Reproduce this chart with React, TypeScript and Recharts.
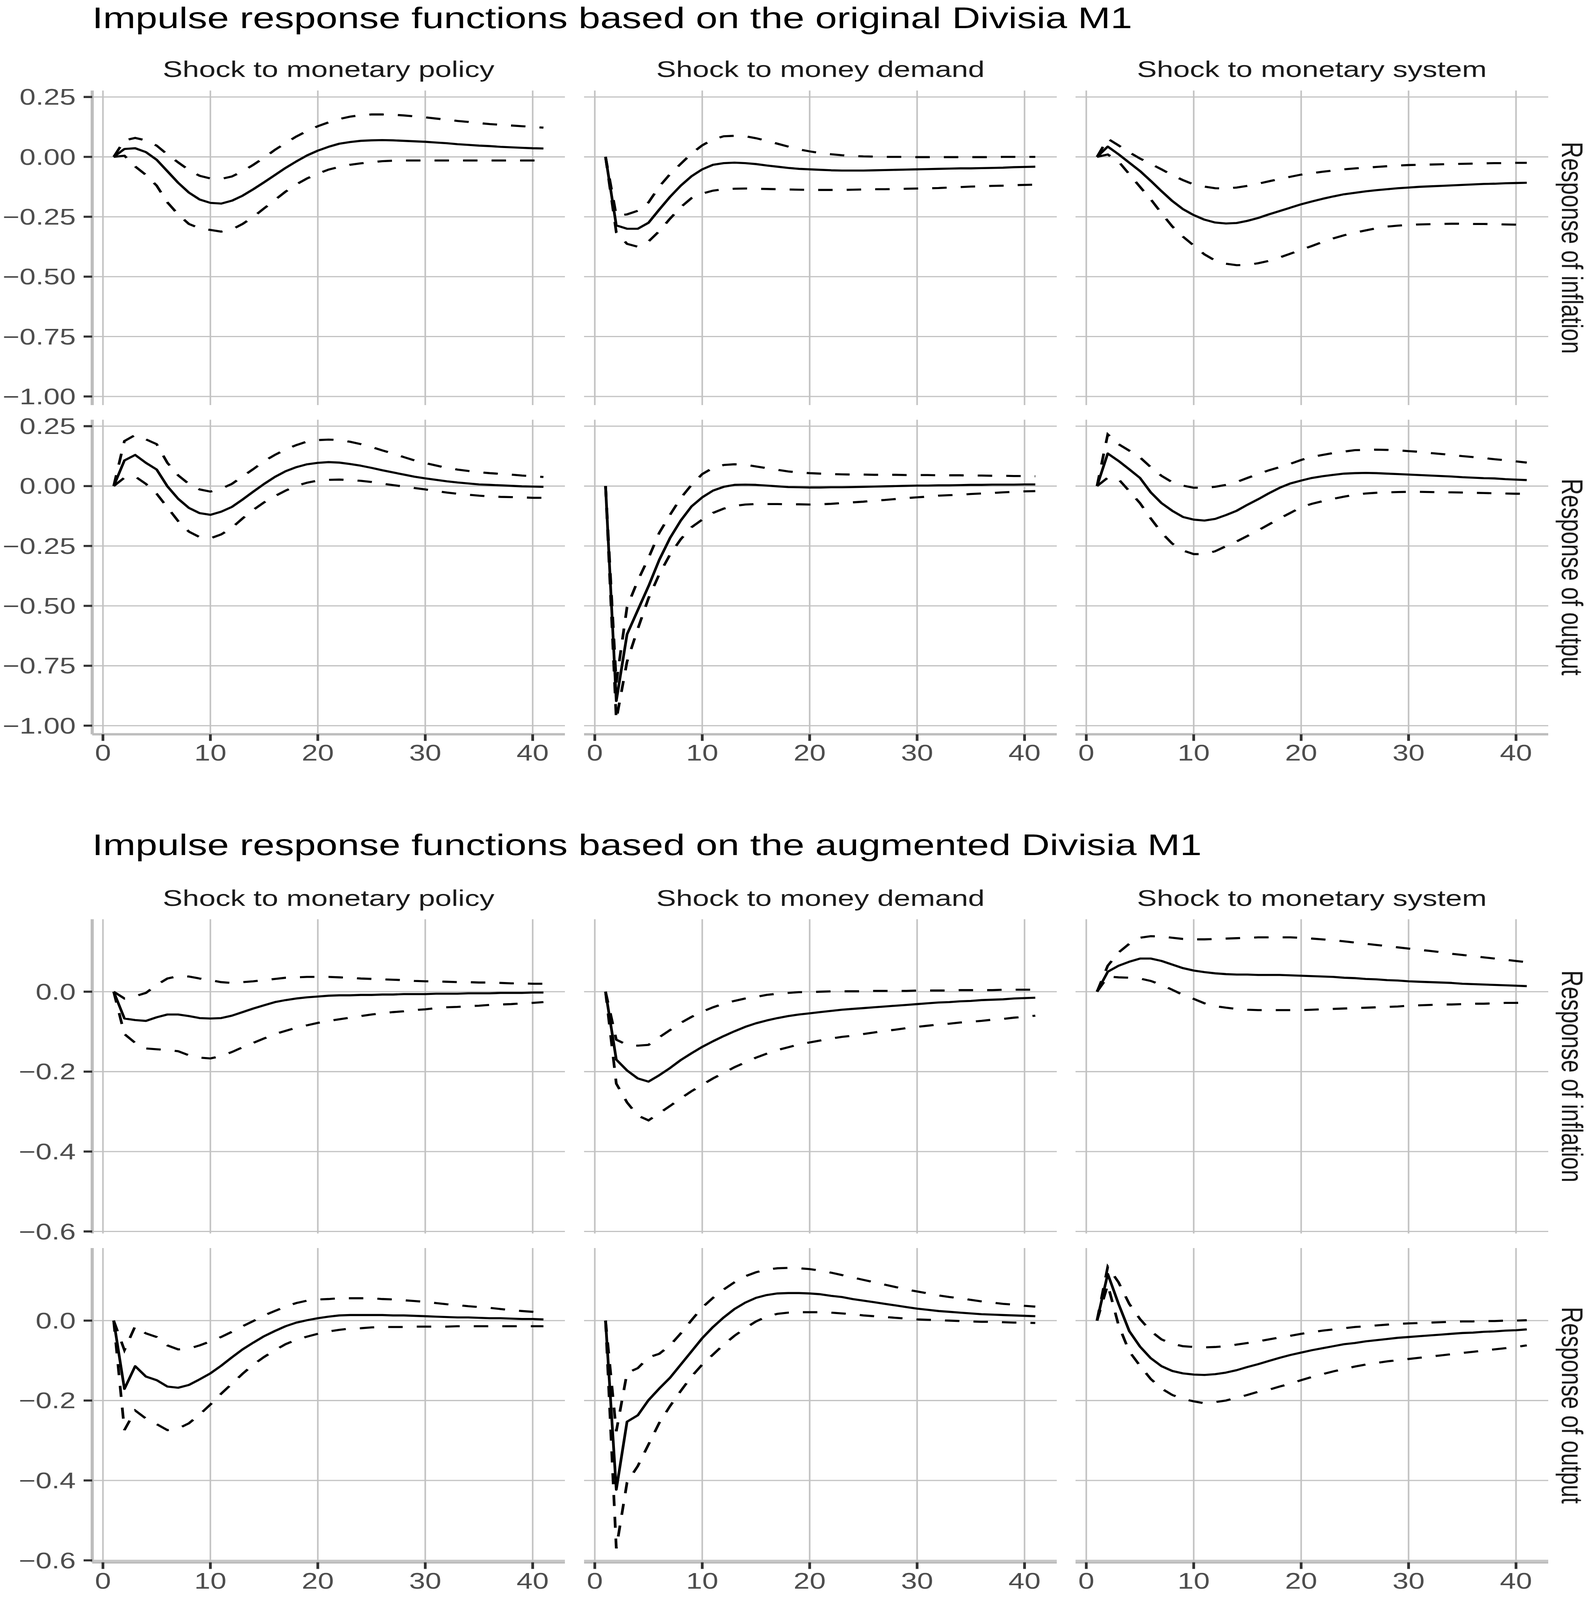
import { CartesianGrid, Line, LineChart, XAxis, YAxis } from "recharts";

// impulse horizon (quarters)
const horizon = [
  1, 2, 3, 4, 5, 6, 7, 8, 9, 10, 11, 12, 13, 14, 15, 16, 17, 18, 19, 20, 21,
  22, 23, 24, 25, 26, 27, 28, 29, 30, 31, 32, 33, 34, 35, 36, 37, 38, 39, 40, 41,
];

const shocks = ["Shock to monetary policy", "Shock to money demand", "Shock to monetary system"];
const responses = ["Response of inflation", "Response of output"];
const xTicks = [0, 10, 20, 30, 40];
const origTicks = [-1, -0.75, -0.5, -0.25, 0, 0.25];
const augTicks = [-0.6, -0.4, -0.2, 0];

// ---- original Divisia M1 ----
const origInflPolicyMid = [0, 0.033, 0.036, 0.02, -0.012, -0.06, -0.108, -0.149, -0.178, -0.192,
  -0.195, -0.183, -0.162, -0.135, -0.106, -0.076, -0.046, -0.019, 0.006, 0.026,
  0.042, 0.055, 0.062, 0.067, 0.069, 0.07, 0.069, 0.067, 0.065, 0.063,
  0.06, 0.057, 0.053, 0.05, 0.047, 0.045, 0.042, 0.04, 0.038, 0.036, 0.035];
const origInflPolicyUp = [0, 0.069, 0.079, 0.069, 0.047, 0.01, -0.023, -0.055, -0.079, -0.09,
  -0.092, -0.082, -0.06, -0.033, -0.003, 0.029, 0.058, 0.085, 0.108, 0.128,
  0.144, 0.158, 0.168, 0.174, 0.177, 0.177, 0.176, 0.173, 0.169, 0.165,
  0.16, 0.155, 0.15, 0.146, 0.141, 0.137, 0.134, 0.131, 0.128, 0.125, 0.122];
const origInflPolicyLo = [0, 0.005, -0.04, -0.075, -0.12, -0.19, -0.24, -0.28, -0.298, -0.305,
  -0.312, -0.303, -0.28, -0.25, -0.215, -0.18, -0.145, -0.115, -0.09, -0.07,
  -0.053, -0.042, -0.033, -0.027, -0.022, -0.018, -0.016, -0.015, -0.015, -0.015,
  -0.015, -0.015, -0.015, -0.015, -0.015, -0.015, -0.015, -0.015, -0.015, -0.015, -0.015];

const origInflDemandMid = [0, -0.286, -0.3, -0.3, -0.275, -0.22, -0.167, -0.12, -0.081, -0.052,
  -0.033, -0.026, -0.024, -0.026, -0.03, -0.036, -0.041, -0.046, -0.05, -0.052,
  -0.054, -0.056, -0.057, -0.057, -0.057, -0.056, -0.055, -0.054, -0.053, -0.052,
  -0.051, -0.05, -0.049, -0.048, -0.048, -0.047, -0.046, -0.045, -0.043, -0.042, -0.041];
const origInflDemandUp = [0, -0.245, -0.24, -0.225, -0.19, -0.124, -0.072, -0.029, 0.014, 0.048,
  0.073, 0.086, 0.088, 0.086, 0.078, 0.067, 0.055, 0.043, 0.031, 0.023,
  0.016, 0.011, 0.007, 0.004, 0.002, 0.001, 0, 0, 0, -0.001,
  -0.001, -0.001, -0.001, -0.001, -0.001, -0.001, -0.001, 0, 0, 0, 0];
const origInflDemandLo = [0, -0.315, -0.363, -0.375, -0.353, -0.31, -0.258, -0.21, -0.172, -0.153,
  -0.141, -0.135, -0.133, -0.132, -0.133, -0.134, -0.135, -0.136, -0.137, -0.138,
  -0.138, -0.138, -0.138, -0.137, -0.136, -0.135, -0.135, -0.134, -0.133, -0.132,
  -0.131, -0.13, -0.128, -0.126, -0.124, -0.123, -0.121, -0.12, -0.118, -0.117, -0.116];

const origInflSystemMid = [0, 0.043, 0.011, -0.024, -0.059, -0.1, -0.143, -0.184, -0.218, -0.243,
  -0.262, -0.274, -0.278, -0.276, -0.267, -0.255, -0.24, -0.226, -0.212, -0.198,
  -0.186, -0.175, -0.165, -0.156, -0.15, -0.144, -0.139, -0.135, -0.131, -0.128,
  -0.125, -0.123, -0.121, -0.119, -0.117, -0.115, -0.113, -0.112, -0.11, -0.109, -0.108];
const origInflSystemUp = [0, 0.076, 0.048, 0.019, -0.007, -0.029, -0.052, -0.076, -0.097, -0.115,
  -0.124, -0.131, -0.132, -0.128, -0.121, -0.112, -0.102, -0.092, -0.083, -0.074,
  -0.068, -0.062, -0.057, -0.052, -0.048, -0.045, -0.042, -0.039, -0.036, -0.034,
  -0.033, -0.032, -0.031, -0.03, -0.029, -0.028, -0.027, -0.026, -0.026, -0.025, -0.025];
const origInflSystemLo = [0, 0.01, -0.019, -0.072, -0.125, -0.177, -0.235, -0.29, -0.333, -0.37,
  -0.407, -0.433, -0.446, -0.452, -0.451, -0.444, -0.434, -0.42, -0.404, -0.388,
  -0.372, -0.355, -0.34, -0.327, -0.316, -0.307, -0.298, -0.291, -0.287, -0.284,
  -0.282, -0.281, -0.28, -0.279, -0.279, -0.28, -0.28, -0.281, -0.282, -0.283, -0.283];

const origOutPolicyMid = [0, 0.107, 0.13, 0.097, 0.069, -0.001, -0.053, -0.091, -0.113, -0.12,
  -0.107, -0.087, -0.056, -0.023, 0.009, 0.038, 0.062, 0.079, 0.091, 0.097,
  0.1, 0.098, 0.092, 0.085, 0.076, 0.066, 0.057, 0.048, 0.039, 0.032,
  0.026, 0.02, 0.015, 0.011, 0.007, 0.005, 0.003, 0.001, -0.001, -0.002, -0.003];
const origOutPolicyUp = [0, 0.188, 0.213, 0.195, 0.175, 0.097, 0.045, 0.009, -0.014, -0.023,
  -0.011, 0.009, 0.04, 0.071, 0.104, 0.13, 0.153, 0.171, 0.186, 0.192,
  0.194, 0.192, 0.185, 0.175, 0.163, 0.149, 0.136, 0.121, 0.107, 0.096,
  0.086, 0.076, 0.069, 0.063, 0.058, 0.054, 0.051, 0.048, 0.044, 0.041, 0.038];
const origOutPolicyLo = [0, 0.035, 0.04, 0.009, -0.032, -0.089, -0.146, -0.19, -0.213, -0.218,
  -0.202, -0.174, -0.135, -0.099, -0.068, -0.042, -0.019, 0.001, 0.014, 0.023,
  0.026, 0.027, 0.025, 0.022, 0.017, 0.01, 0.004, -0.002, -0.008, -0.014,
  -0.021, -0.027, -0.032, -0.036, -0.04, -0.043, -0.045, -0.046, -0.047, -0.049, -0.049];

const origOutDemandMid = [0, -0.897, -0.619, -0.518, -0.418, -0.308, -0.217, -0.144, -0.085, -0.047,
  -0.019, -0.003, 0.005, 0.006, 0.005, 0.002, -0.001, -0.004, -0.005, -0.006,
  -0.006, -0.005, -0.005, -0.004, -0.003, -0.002, -0.001, 0, 0.001, 0.002,
  0.002, 0.003, 0.003, 0.004, 0.005, 0.005, 0.006, 0.006, 0.006, 0.007, 0.007];
const origOutDemandUp = [0, -0.82, -0.505, -0.395, -0.3, -0.195, -0.12, -0.05, 0.005, 0.05,
  0.076, 0.088, 0.091, 0.089, 0.082, 0.075, 0.068, 0.061, 0.057, 0.054,
  0.052, 0.05, 0.049, 0.048, 0.048, 0.047, 0.047, 0.047, 0.046, 0.046,
  0.046, 0.045, 0.045, 0.045, 0.044, 0.044, 0.043, 0.043, 0.042, 0.042, 0.041];
const origOutDemandLo = [0, -0.975, -0.733, -0.596, -0.468, -0.368, -0.286, -0.222, -0.172, -0.14,
  -0.112, -0.094, -0.083, -0.077, -0.075, -0.075, -0.075, -0.076, -0.076, -0.077,
  -0.076, -0.074, -0.071, -0.068, -0.065, -0.061, -0.058, -0.054, -0.05, -0.047,
  -0.044, -0.04, -0.038, -0.036, -0.033, -0.031, -0.029, -0.026, -0.024, -0.022, -0.021];

const origOutSystemMid = [0, 0.136, 0.105, 0.07, 0.034, -0.026, -0.071, -0.103, -0.129, -0.14,
  -0.144, -0.137, -0.121, -0.103, -0.078, -0.055, -0.03, -0.007, 0.011, 0.023,
  0.034, 0.041, 0.047, 0.052, 0.054, 0.055, 0.054, 0.052, 0.05, 0.048,
  0.046, 0.044, 0.042, 0.04, 0.037, 0.035, 0.033, 0.032, 0.029, 0.027, 0.025];
const origOutSystemUp = [0, 0.216, 0.175, 0.148, 0.12, 0.079, 0.043, 0.016, 0.002, -0.007,
  -0.007, -0.003, 0.005, 0.017, 0.034, 0.05, 0.066, 0.079, 0.093, 0.109,
  0.122, 0.13, 0.138, 0.144, 0.15, 0.151, 0.152, 0.151, 0.149, 0.146,
  0.143, 0.138, 0.134, 0.13, 0.125, 0.121, 0.117, 0.112, 0.108, 0.103, 0.098];
const origOutSystemLo = [0, 0.035, 0.029, -0.021, -0.071, -0.135, -0.194, -0.24, -0.269, -0.284,
  -0.284, -0.272, -0.251, -0.231, -0.208, -0.185, -0.16, -0.135, -0.112, -0.088,
  -0.074, -0.063, -0.053, -0.044, -0.036, -0.031, -0.028, -0.026, -0.025, -0.024,
  -0.024, -0.025, -0.026, -0.026, -0.027, -0.028, -0.029, -0.03, -0.031, -0.032, -0.032];

// ---- augmented Divisia M1 ----
const augInflPolicyMid = [0, -0.067, -0.071, -0.073, -0.064, -0.057, -0.057, -0.061, -0.066, -0.067,
  -0.066, -0.06, -0.051, -0.042, -0.034, -0.026, -0.021, -0.017, -0.014, -0.012,
  -0.01, -0.009, -0.009, -0.008, -0.008, -0.007, -0.007, -0.006, -0.006, -0.006,
  -0.005, -0.005, -0.005, -0.004, -0.004, -0.004, -0.003, -0.003, -0.003, -0.002, -0.002];
const augInflPolicyUp = [0, -0.017, -0.011, -0.003, 0.017, 0.033, 0.039, 0.038, 0.033, 0.029,
  0.024, 0.022, 0.024, 0.026, 0.029, 0.032, 0.035, 0.036, 0.037, 0.037,
  0.037, 0.036, 0.035, 0.033, 0.032, 0.031, 0.03, 0.029, 0.027, 0.026,
  0.026, 0.025, 0.024, 0.024, 0.023, 0.023, 0.022, 0.021, 0.021, 0.02, 0.02];
const augInflPolicyLo = [0, -0.106, -0.128, -0.142, -0.144, -0.146, -0.149, -0.159, -0.165, -0.167,
  -0.161, -0.151, -0.139, -0.128, -0.117, -0.106, -0.098, -0.09, -0.084, -0.078,
  -0.073, -0.069, -0.065, -0.061, -0.057, -0.054, -0.051, -0.049, -0.046, -0.044,
  -0.041, -0.039, -0.038, -0.036, -0.035, -0.033, -0.032, -0.031, -0.029, -0.028, -0.026];

const augInflDemandMid = [0, -0.17, -0.197, -0.217, -0.225, -0.209, -0.191, -0.171, -0.154, -0.138,
  -0.124, -0.111, -0.099, -0.088, -0.079, -0.072, -0.066, -0.061, -0.057, -0.054,
  -0.051, -0.048, -0.045, -0.043, -0.041, -0.039, -0.037, -0.035, -0.033, -0.031,
  -0.029, -0.027, -0.026, -0.024, -0.023, -0.021, -0.02, -0.019, -0.017, -0.016, -0.015];
const augInflDemandUp = [0, -0.12, -0.133, -0.135, -0.133, -0.114, -0.096, -0.078, -0.063, -0.05,
  -0.039, -0.03, -0.023, -0.017, -0.013, -0.008, -0.005, -0.003, -0.001, -0.001,
  0, 0.001, 0.001, 0.001, 0.001, 0.002, 0.002, 0.002, 0.002, 0.003,
  0.003, 0.003, 0.003, 0.004, 0.004, 0.004, 0.004, 0.005, 0.005, 0.005, 0.005];
const augInflDemandLo = [0, -0.23, -0.277, -0.31, -0.322, -0.304, -0.286, -0.267, -0.249, -0.233,
  -0.217, -0.203, -0.189, -0.177, -0.165, -0.155, -0.146, -0.139, -0.132, -0.127,
  -0.122, -0.117, -0.113, -0.11, -0.106, -0.102, -0.098, -0.095, -0.091, -0.088,
  -0.085, -0.082, -0.08, -0.077, -0.075, -0.073, -0.07, -0.068, -0.065, -0.063, -0.06];

const augInflSystemMid = [0, 0.05, 0.065, 0.075, 0.083, 0.083, 0.077, 0.068, 0.059, 0.053,
  0.049, 0.046, 0.044, 0.043, 0.043, 0.042, 0.042, 0.042, 0.041, 0.04,
  0.039, 0.038, 0.037, 0.035, 0.034, 0.032, 0.031, 0.029, 0.028, 0.026,
  0.025, 0.024, 0.023, 0.022, 0.02, 0.019, 0.018, 0.017, 0.016, 0.015, 0.014];
const augInflSystemUp = [0, 0.065, 0.098, 0.12, 0.135, 0.139, 0.138, 0.135, 0.132, 0.131,
  0.131, 0.132, 0.133, 0.134, 0.135, 0.136, 0.136, 0.136, 0.136, 0.135,
  0.133, 0.131, 0.129, 0.126, 0.123, 0.12, 0.117, 0.114, 0.111, 0.108,
  0.105, 0.102, 0.099, 0.095, 0.092, 0.089, 0.086, 0.083, 0.08, 0.077, 0.074];
const augInflSystemLo = [0, 0.038, 0.036, 0.035, 0.033, 0.027, 0.017, 0.005, -0.008, -0.018,
  -0.029, -0.036, -0.04, -0.043, -0.045, -0.046, -0.046, -0.046, -0.046, -0.046,
  -0.045, -0.044, -0.043, -0.042, -0.041, -0.04, -0.039, -0.038, -0.037, -0.035,
  -0.034, -0.033, -0.032, -0.032, -0.031, -0.03, -0.03, -0.029, -0.028, -0.028, -0.027];

const augOutPolicyMid = [0, -0.171, -0.114, -0.14, -0.149, -0.165, -0.168, -0.161, -0.147, -0.132,
  -0.113, -0.092, -0.072, -0.055, -0.039, -0.026, -0.014, -0.005, 0.001, 0.006,
  0.01, 0.013, 0.014, 0.014, 0.014, 0.014, 0.013, 0.013, 0.012, 0.011,
  0.01, 0.009, 0.008, 0.008, 0.007, 0.006, 0.006, 0.005, 0.004, 0.004, 0.003];
const augOutPolicyUp = [0, -0.074, -0.014, -0.032, -0.041, -0.062, -0.072, -0.07, -0.062, -0.052,
  -0.041, -0.028, -0.014, -0.001, 0.013, 0.024, 0.035, 0.044, 0.05, 0.053,
  0.054, 0.056, 0.056, 0.056, 0.056, 0.054, 0.053, 0.051, 0.049, 0.047,
  0.044, 0.041, 0.039, 0.036, 0.034, 0.032, 0.029, 0.026, 0.024, 0.022, 0.02];
const augOutPolicyLo = [0, -0.274, -0.225, -0.245, -0.259, -0.274, -0.27, -0.257, -0.235, -0.21,
  -0.183, -0.158, -0.133, -0.11, -0.091, -0.074, -0.059, -0.048, -0.04, -0.033,
  -0.027, -0.023, -0.02, -0.019, -0.017, -0.016, -0.016, -0.016, -0.015, -0.015,
  -0.015, -0.015, -0.014, -0.014, -0.014, -0.014, -0.014, -0.014, -0.014, -0.014, -0.014];

const augOutDemandMid = [0, -0.423, -0.253, -0.237, -0.199, -0.17, -0.143, -0.11, -0.077, -0.044,
  -0.016, 0.008, 0.029, 0.045, 0.057, 0.064, 0.068, 0.069, 0.069, 0.068,
  0.066, 0.062, 0.059, 0.054, 0.05, 0.046, 0.042, 0.038, 0.034, 0.03,
  0.027, 0.024, 0.022, 0.02, 0.018, 0.016, 0.015, 0.014, 0.013, 0.012, 0.011];
const augOutDemandUp = [0, -0.277, -0.131, -0.119, -0.092, -0.083, -0.062, -0.032, 0.001, 0.033,
  0.057, 0.078, 0.096, 0.111, 0.121, 0.128, 0.131, 0.132, 0.131, 0.129,
  0.125, 0.12, 0.114, 0.108, 0.102, 0.096, 0.09, 0.084, 0.078, 0.073,
  0.068, 0.063, 0.059, 0.056, 0.052, 0.048, 0.045, 0.042, 0.04, 0.037, 0.035];
const augOutDemandLo = [0, -0.57, -0.405, -0.364, -0.31, -0.256, -0.214, -0.176, -0.14, -0.11,
  -0.085, -0.06, -0.038, -0.019, -0.002, 0.01, 0.017, 0.02, 0.021, 0.021,
  0.021, 0.02, 0.018, 0.016, 0.013, 0.011, 0.009, 0.007, 0.005, 0.003,
  0.002, 0.001, 0, -0.001, -0.002, -0.003, -0.003, -0.004, -0.005, -0.005, -0.006];

const augOutSystemMid = [0, 0.117, 0.042, -0.026, -0.065, -0.094, -0.114, -0.126, -0.132, -0.135,
  -0.136, -0.134, -0.13, -0.124, -0.116, -0.109, -0.101, -0.093, -0.086, -0.08,
  -0.074, -0.069, -0.064, -0.059, -0.056, -0.052, -0.049, -0.046, -0.043, -0.041,
  -0.039, -0.037, -0.035, -0.033, -0.031, -0.03, -0.028, -0.027, -0.025, -0.024, -0.022];
const augOutSystemUp = [0, 0.135, 0.096, 0.042, 0.004, -0.026, -0.047, -0.058, -0.064, -0.066,
  -0.067, -0.066, -0.064, -0.06, -0.056, -0.052, -0.047, -0.042, -0.038, -0.033,
  -0.029, -0.025, -0.022, -0.019, -0.016, -0.014, -0.012, -0.01, -0.008, -0.007,
  -0.006, -0.005, -0.004, -0.003, -0.002, -0.002, -0.001, -0.001, 0, 0, 0.001];
const augOutSystemLo = [0, 0.09, -0.011, -0.077, -0.113, -0.146, -0.17, -0.186, -0.196, -0.202,
  -0.207, -0.204, -0.2, -0.193, -0.186, -0.178, -0.173, -0.165, -0.158, -0.149,
  -0.141, -0.134, -0.127, -0.121, -0.115, -0.11, -0.106, -0.102, -0.099, -0.096,
  -0.093, -0.09, -0.087, -0.084, -0.081, -0.078, -0.075, -0.072, -0.069, -0.066, -0.062];

// layout (px, page coords of the full 4075 x 5356 figure)
const pageW = 4075;
const pageH = 5356;
const colLeft = [236, 1495, 2753];
const plotW = 1210;
const pad = 60;
const gridGrey = "#c2c2c2";
const axisGrey = "#bdbdbd";
const tickFont = { fill: "#4d4d4d", fontSize: 74 };

const toRows = (mid: number[], up: number[], lo: number[]) =>
  horizon.map((h, i) => ({ h, mid: mid[i], up: up[i], lo: lo[i] }));

const figures = [
  {
    title: "Impulse response functions based on the original Divisia M1",
    titleY: 94,
    stripY: 258,
    rowTop: [303, 1405],
    plotH: 1053,
    domain: [-1.036, 0.277],
    ticks: origTicks,
    digits: 2,
    panels: [
      [
        toRows(origInflPolicyMid, origInflPolicyUp, origInflPolicyLo),
        toRows(origInflDemandMid, origInflDemandUp, origInflDemandLo),
        toRows(origInflSystemMid, origInflSystemUp, origInflSystemLo),
      ],
      [
        toRows(origOutPolicyMid, origOutPolicyUp, origOutPolicyLo),
        toRows(origOutDemandMid, origOutDemandUp, origOutDemandLo),
        toRows(origOutSystemMid, origOutSystemUp, origOutSystemLo),
      ],
    ],
  },
  {
    title: "Impulse response functions based on the augmented Divisia M1",
    titleY: 2863,
    stripY: 3033,
    rowTop: [3077, 4178],
    plotH: 1052,
    domain: [-0.605, 0.1815],
    ticks: augTicks,
    digits: 1,
    panels: [
      [
        toRows(augInflPolicyMid, augInflPolicyUp, augInflPolicyLo),
        toRows(augInflDemandMid, augInflDemandUp, augInflDemandLo),
        toRows(augInflSystemMid, augInflSystemUp, augInflSystemLo),
      ],
      [
        toRows(augOutPolicyMid, augOutPolicyUp, augOutPolicyLo),
        toRows(augOutDemandMid, augOutDemandUp, augOutDemandLo),
        toRows(augOutSystemMid, augOutSystemUp, augOutSystemLo),
      ],
    ],
  },
];

const fmt = (digits: number) => (v: number) =>
  (v < 0 ? "\u2212" : "") + Math.abs(v).toFixed(digits);

function Panel({ data, left, top, plotH, first, bottom, domain, ticks, digits }: any) {
  const yW = first ? 236 : 0;
  const xH = bottom ? 110 : 0;
  return (
    <div style={{ position: "absolute", left: left - yW, top: top - pad }}>
      <LineChart
        width={yW + plotW}
        height={pad + plotH + (bottom ? xH : pad)}
        data={data}
        margin={{ top: pad, right: 0, bottom: bottom ? 0 : pad, left: 0 }}
      >
        <CartesianGrid
          stroke={gridGrey}
          strokeWidth={4}
          horizontalValues={ticks}
          verticalValues={xTicks}
        />
        <XAxis
          dataKey="h"
          type="number"
          domain={[-1, 43]}
          ticks={xTicks}
          interval={0}
          allowDataOverflow
          hide={!bottom}
          height={xH}
          tick={tickFont}
          tickSize={22}
          tickMargin={14}
          axisLine={{ stroke: axisGrey, strokeWidth: 8 }}
          tickLine={{ stroke: "#333333", strokeWidth: 7 }}
        />
        <YAxis
          type="number"
          domain={domain}
          ticks={ticks}
          interval={0}
          allowDataOverflow
          hide={!first}
          width={yW}
          tick={tickFont}
          tickSize={22}
          tickMargin={20}
          tickFormatter={fmt(digits)}
          axisLine={{ stroke: axisGrey, strokeWidth: 8 }}
          tickLine={{ stroke: "#333333", strokeWidth: 7 }}
        />
        <Line dataKey="up" type="linear" stroke="#000" strokeWidth={7} strokeDasharray="37 36"
          dot={false} activeDot={false} isAnimationActive={false} />
        <Line dataKey="lo" type="linear" stroke="#000" strokeWidth={7} strokeDasharray="37 36"
          dot={false} activeDot={false} isAnimationActive={false} />
        <Line dataKey="mid" type="linear" stroke="#000" strokeWidth={7} strokeLinejoin="round"
          dot={false} activeDot={false} isAnimationActive={false} />
      </LineChart>
    </div>
  );
}

export default function App() {
  // the browser window can be shorter than the figure; squeeze it vertically to fit
  const viewH = typeof window !== "undefined" ? window.innerHeight : pageH;
  const k = Math.min(1, viewH / pageH);
  return (
    <div
      style={{
        position: "relative",
        margin: -8,
        width: pageW,
        height: Math.floor(pageH * k),
        background: "#fff",
        overflow: "hidden",
      }}
    >
      <div
        style={{
          position: "absolute",
          left: 0,
          top: 0,
          width: pageW,
          height: pageH,
          transform: `scale(1, ${k})`,
          transformOrigin: "0 0",
          fontFamily: "'Liberation Sans', Arial, sans-serif",
        }}
      >
        {figures.map((fig, f) =>
          fig.panels.map((row, r) =>
            row.map((data, c) => (
              <Panel
                key={`${f}-${r}-${c}`}
                data={data}
                left={colLeft[c]}
                top={fig.rowTop[r]}
                plotH={fig.plotH}
                first={c === 0}
                bottom={r === 1}
                domain={fig.domain}
                ticks={fig.ticks}
                digits={fig.digits}
              />
            ))
          )
        )}
        <svg
          width={pageW}
          height={pageH}
          style={{ position: "absolute", left: 0, top: 0, pointerEvents: "none" }}
        >
          {figures.map((fig, f) => (
            <g key={f}>
              <text x={236} y={fig.titleY} fontSize={100} fill="#000">
                {fig.title}
              </text>
              {shocks.map((s, c) => (
                <text key={s} x={colLeft[c] + plotW / 2} y={fig.stripY} fontSize={76}
                  fill="#1a1a1a" textAnchor="middle">
                  {s}
                </text>
              ))}
              {responses.map((s, r) => (
                <text
                  key={s}
                  fontSize={76}
                  fill="#1a1a1a"
                  textAnchor="middle"
                  transform={`translate(3998, ${fig.rowTop[r] + fig.plotH / 2}) rotate(90)`}
                >
                  {s}
                </text>
              ))}
            </g>
          ))}
        </svg>
      </div>
    </div>
  );
}
